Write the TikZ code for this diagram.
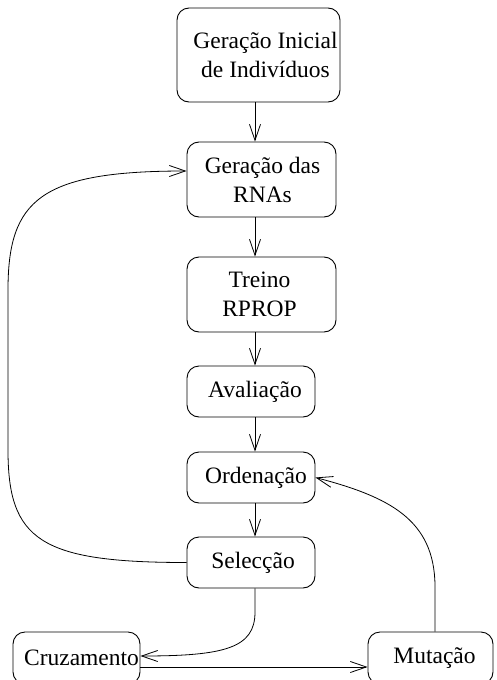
\documentclass[tikz,border=0pt]{standalone}
\usepackage{fontspec}
\setmainfont{Liberation Serif}
\usetikzlibrary{arrows.meta,calc}
\begin{document}
\begin{tikzpicture}[x=1pt,y=-1pt,
  box/.style={draw, rounded corners=12pt, line width=0.9pt, inner sep=0pt},
  txt/.style={align=center, inner sep=0pt, font=\fontsize{23.5}{29}\selectfont},
  flow/.style={line width=0.8pt,
    -{Straight Barb[length=16pt,width=11pt,line width=0.8pt]}}]
\useasboundingbox (0,0) rectangle (496,680);
\clip (0,0) rectangle (496,680);

% main column of steps
\node[box, minimum width=163pt, minimum height=94pt] (b1) at (258.5,55) {};
\node[box, minimum width=149pt, minimum height=75pt] (b2) at (261.5,179.5) {};
\node[box, minimum width=149pt, minimum height=75pt] (b3) at (261.5,294.5) {};
\node[box, minimum width=128pt, minimum height=51pt] (b4) at (251,391.5) {};
\node[box, minimum width=128pt, minimum height=51pt] (b5) at (251,477.5) {};
\node[box, minimum width=128pt, minimum height=51pt] (b6) at (251,562.5) {};

% genetic operators
\node[box, minimum width=127pt, minimum height=52pt] (b7) at (76.5,658) {};
\node[box, minimum width=125pt, minimum height=52pt] (b8) at (430.5,658) {};

% labels
\node[txt, xshift=7pt] (t1) at (b1) {Geração Inicial\\de Indivíduos};
\node[txt, xshift=1pt] (t2) at (b2) {Geração das\\RNAs};
\node[txt, xshift=-2pt] (t3) at (b3) {Treino\\RPROP};
\node[txt, xshift=4pt] (t4) at (b4) {Avaliação};
\node[txt, xshift=5pt] (t5) at (b5) {Ordenação};
\node[txt, xshift=2pt] (t6) at (b6) {Selecção};
\node[txt, xshift=5pt] (t7) at (b7) {Cruzamento};
\node[txt, xshift=4pt] (t8) at (b8) {Mutação};

\coordinate (axis) at (255,0);

% vertical flow
\draw[flow] (b1.south -| axis) -- (b2.north -| axis);
\draw[flow] (b2.south -| axis) -- (b3.north -| axis);
\draw[flow] (b3.south -| axis) -- (b4.north -| axis);
\draw[flow] (b4.south -| axis) -- (b5.north -| axis);
\draw[flow] (b5.south -| axis) -- (b6.north -| axis);

% loop back to network generation
\draw[flow] (b6.west) .. controls (40,562.5) and (8,540) .. (8,450) -- (8,290)
  .. controls (8,200) and (40,171) .. ($(b2.west)+(0,-8.5)$);

% selection to crossover
\draw[flow] (b6.south -| axis) -- (255,612) .. controls (255,648) and (225,656) .. ($(b7.east)+(0,-2)$);

% crossover to mutation
\draw[flow] ($(b7.east)+(0,9)$) -- ($(b8.west)+(0,9)$);

% mutation back to sorting
\draw[flow] ($(b8.north)+(4.5,0)$) -- (435,585) .. controls (434,520) and (390,497) .. (b5.east);
\end{tikzpicture}
\end{document}
